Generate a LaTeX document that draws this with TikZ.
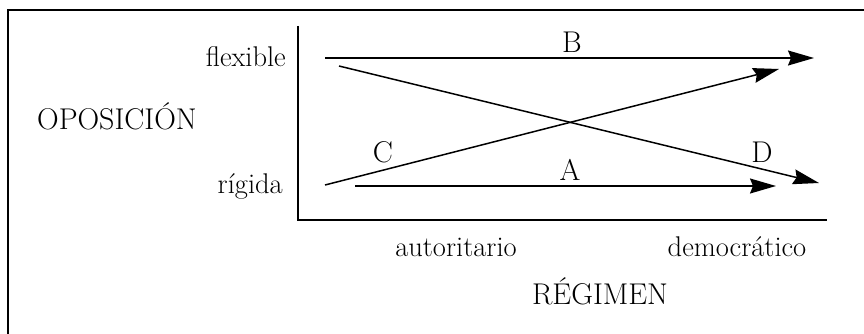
\documentclass[tikz,border=0pt]{standalone}
\usetikzlibrary{arrows.meta}
\begin{document}
\begin{tikzpicture}[x=1pt,y=-1pt,
  lbl/.style={inner sep=0pt,font=\fontsize{28.5}{34}\selectfont},
  caps/.style={inner sep=0pt,font=\fontsize{30}{36}\selectfont},
  axis/.style={line width=1.6pt},
  flow/.style={line width=1.5pt,-{Stealth[length=26pt,width=15pt,inset=3pt]}},
  frame/.style={line width=1.4pt}]
\useasboundingbox (0,0) rectangle (864,334);
% frame (cropped)
\coordinate (f1) at (8,340);
\coordinate (f2) at (8,10);
\coordinate (f3) at (870,10);
\draw[frame] (f1) -- (f2) -- (f3);
% axes
\coordinate (ytop) at (298,26);
\coordinate (orig) at (298,220);
\coordinate (xend) at (827,220);
\draw[axis] (ytop) -- (orig) -- (xend);
% arrow endpoints
\coordinate (bs) at (325,58);  \coordinate (be) at (814,58);
\coordinate (ds) at (339,66);  \coordinate (de) at (819,183);
\coordinate (cs) at (325,185); \coordinate (ce) at (779,69);
\coordinate (as) at (355,186); \coordinate (ae) at (776,186);
\draw[flow] (bs) -- (be);
\draw[flow] (ds) -- (de);
\draw[flow] (cs) -- (ce);
\draw[flow] (as) -- (ae);
% labels
\node[lbl,anchor=base east] (flex) at (286,67) {flexible};
\node[lbl,anchor=base east] (rig) at (283,193) {rígida};
\node[caps,anchor=base west] (opo) at (37,130) {OPOSICIÓN};
\node[lbl,anchor=base] (aut) at (456,256) {autoritario};
\node[lbl,anchor=base] (dem) at (737,256) {democrático};
\node[caps,anchor=base] (reg) at (600,304) {RÉGIMEN};
\node[caps,anchor=base] (lB) at (572,53) {B};
\node[caps,anchor=base] (lA) at (570,180) {A};
\node[caps,anchor=base] (lC) at (383,162) {C};
\node[caps,anchor=base] (lD) at (762,162) {D};
\end{tikzpicture}
\end{document}
